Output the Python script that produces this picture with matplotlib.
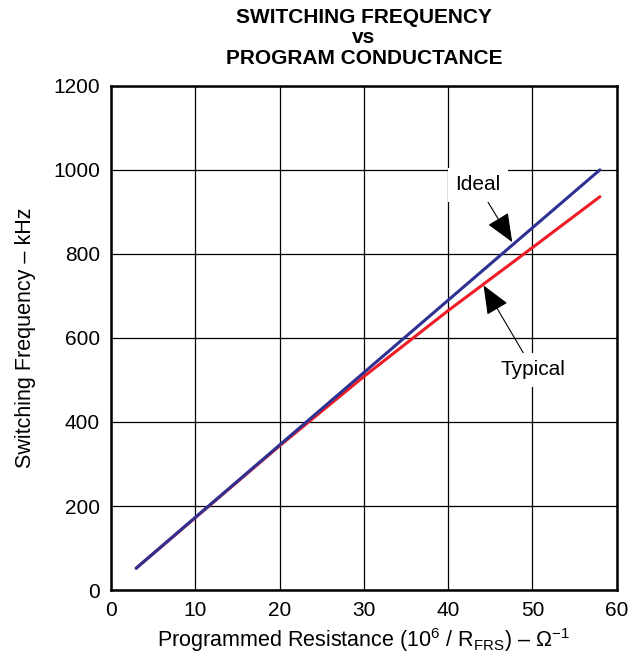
import matplotlib
matplotlib.use("Agg")
import matplotlib.pyplot as plt

plt.rcParams['font.family'] = ['Liberation Sans', 'DejaVu Sans']
plt.rcParams['mathtext.fontset'] = 'custom'
plt.rcParams['mathtext.rm'] = 'Liberation Sans'

x_ideal = [3, 58]
y_ideal = [52, 1000]
x_typ = [3, 10, 20, 30, 40, 50, 58]
y_typ = [52, 172, 343, 508, 665, 815, 936]
xticks = [0, 10, 20, 30, 40, 50, 60]
yticks = [0, 200, 400, 600, 800, 1000, 1200]

fig = plt.figure(figsize=(6.3, 6.6), dpi=100)
ax = fig.add_axes([0.176, 0.106, 0.803, 0.764])
ax.set_xlim(0, 60)
ax.set_ylim(0, 1200)
ax.set_xticks(xticks)
ax.set_yticks(yticks)
ax.grid(True, color='black', linewidth=0.9)
ax.set_axisbelow(True)
for s in ax.spines.values():
    s.set_linewidth(1.8)
ax.tick_params(axis='both', labelsize=15, length=0, pad=8)

ax.plot(x_typ, y_typ, color='#ee1c25', linewidth=2.2, solid_capstyle='round')
ax.plot(x_ideal, y_ideal, color='#2e3192', linewidth=2.2, solid_capstyle='round')

bbox = dict(boxstyle='square,pad=0.35', fc='white', ec='none')
ax.annotate('Ideal', xy=(47.6, 828), xytext=(43.5, 964), fontsize=15,
            ha='center', va='center', bbox=bbox,
            arrowprops=dict(arrowstyle='-|>,head_length=1.2,head_width=0.5',
                            color='black', lw=0.8, shrinkA=0, shrinkB=0))
ax.annotate('Typical', xy=(44.2, 725), xytext=(50.1, 524), fontsize=15,
            ha='center', va='center', bbox=bbox,
            arrowprops=dict(arrowstyle='-|>,head_length=1.2,head_width=0.5',
                            color='black', lw=0.8, shrinkA=0, shrinkB=0))

ax.set_xlabel('Programmed Resistance (10$^{6}$ / R$_{\\mathrm{FRS}}$) – Ω$^{\\mathrm{−1}}$',
              fontsize=15.5, labelpad=4)
ax.set_ylabel('Switching Frequency – kHz', fontsize=15.5, labelpad=12)
ax.set_title('SWITCHING FREQUENCY\nvs\nPROGRAM CONDUCTANCE', fontsize=15,
             fontweight='bold', linespacing=1.1, pad=16)
fig.savefig('out.png', dpi=100)
